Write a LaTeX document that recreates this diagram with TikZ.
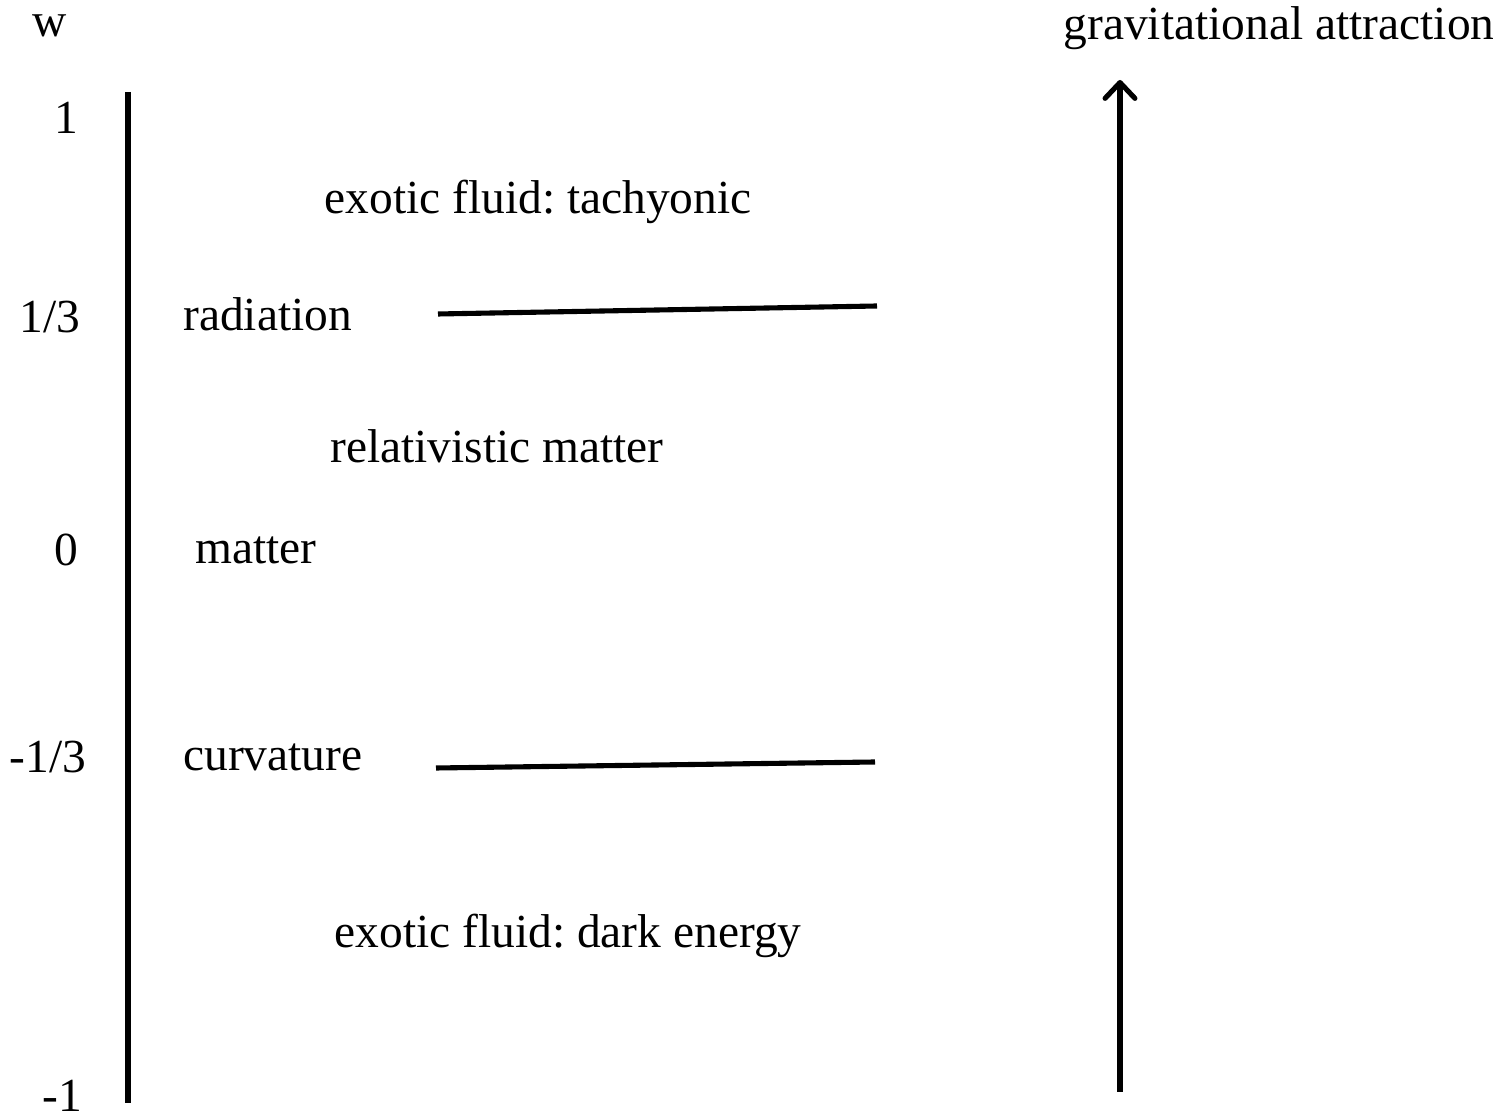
\documentclass[tikz,border=0pt]{standalone}
\usepackage{fontspec}
\setmainfont{Liberation Serif}
\usepackage{tikz}
\usetikzlibrary{positioning,arrows.meta}
\frenchspacing

\tikzset{
  axisline/.style={line width=2.9pt},
  label/.style={anchor=base,inner sep=0pt,font=\fontsize{27}{31}\selectfont},
}

\begin{document}
\begin{tikzpicture}[scale=1]
	\useasboundingbox (0,0) rectangle (30.1,22.4);
	
	% w axis
	\coordinate (wtop) at (2.56,20.56);
	\coordinate (wbot) at (2.56,0.34);
	\draw[axisline] (wtop) -- (wbot);
	
	% gravitational attraction arrow
	\coordinate (gbot) at (22.4,0.56);
	\coordinate (gtop) at (22.4,20.8);
	\draw[axisline,-{Straight Barb[length=9pt,width=17pt,line join=round,line cap=round]}] (gbot) -- (gtop);
	
	% boundaries
	\coordinate (radL) at (8.76,16.12);
	\coordinate (radR) at (17.54,16.28);
	\draw[axisline] (radL) -- (radR);
	\coordinate (curL) at (8.72,7.04);
	\coordinate (curR) at (17.5,7.16);
	\draw[axisline] (curL) -- (curR);
	
	% tick values
	\node[label] (wlab) at (1.0,21.66) {w};
	\node[label] (tone) at (1.32,19.72) {1};
	\node[label] (tthird) at (1.0,15.74) {1/3};
	\node[label] (tzero) at (1.32,11.08) {0};
	\node[label] (tmthird) at (0.96,6.94) {-1/3};
	\node[label] (tmone) at (1.24,0.16) {-1};
	
	% regions
	\node[label] (tachyon) at (10.76,18.12) {exotic fluid: tachyonic};
	\node[label,anchor=base west] (radiation) at (3.66,15.78) {radiation};
	\node[label] (relmat) at (9.94,13.14) {relativistic matter};
	\node[label,anchor=base west] (matter) at (3.9,11.12) {matter};
	\node[label,anchor=base west] (curv) at (3.66,6.98) {curvature};
	\node[label] (darken) at (11.36,3.44) {exotic fluid: dark energy};
	
	\node[label] (gravity) at (25.58,21.6) {gravitational attraction};
	
\end{tikzpicture}
\end{document}
